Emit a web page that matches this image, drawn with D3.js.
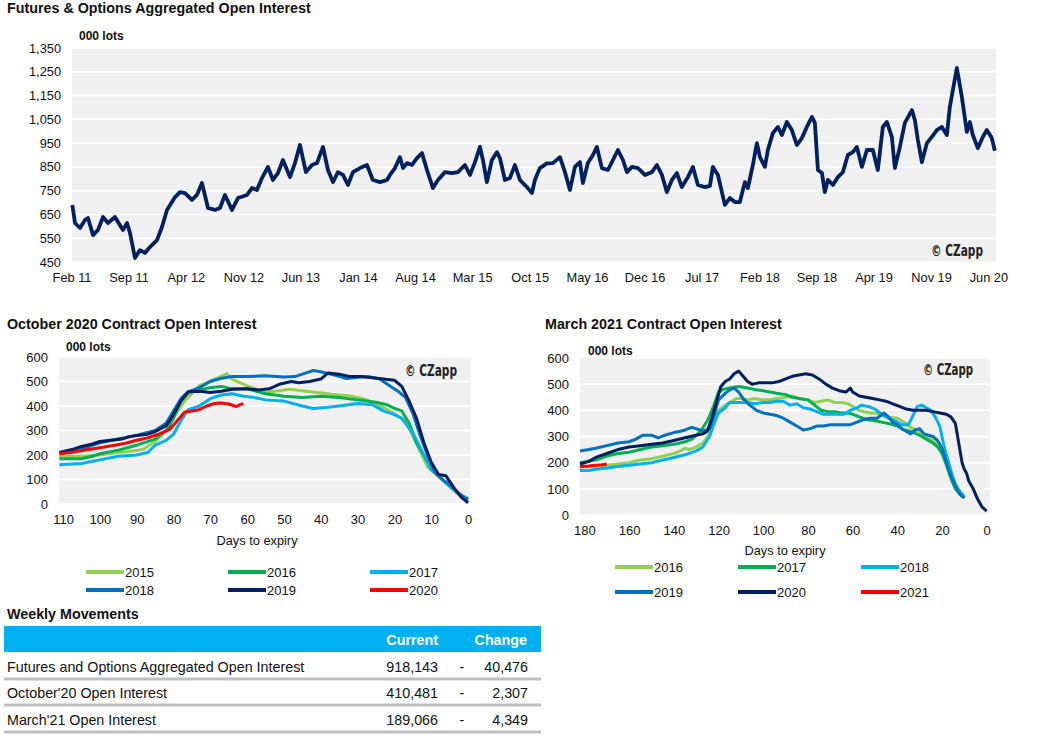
<!DOCTYPE html>
<html><head><meta charset="utf-8">
<script src="https://cdn.jsdelivr.net/npm/d3@7"></script>
<style>
body{margin:0;background:#fff;}
svg{display:block;font-family:"Liberation Sans",Arial,sans-serif;}
</style></head>
<body><svg id="c" width="1045" height="742"></svg>
<script>
// ---------- DATA ----------
// Top chart: [months since Feb 2011, open interest '000 lots]
const topSeries = [[0.1,690],[0.43,614],[1.04,593],[1.65,627],[2.01,635],[2.63,563],[3.24,585],[3.85,639],[4.46,614],[5.31,639],[5.92,605],[6.29,585],[6.78,614],[7.14,572],[7.75,467],[8.36,500],[8.97,488],[9.58,513],[10.44,542],[11.05,597],[11.66,669],[12.27,702],[12.64,723],[13.25,744],[13.86,740],[14.71,711],[15.32,732],[15.93,782],[16.67,677],[17.52,669],[18.13,677],[18.74,732],[19.60,669],[20.33,719],[21.43,732],[22.04,761],[22.65,753],[23.26,803],[23.99,850],[24.60,795],[25.21,824],[25.82,879],[26.68,807],[27.29,866],[27.90,942],[28.63,828],[29.37,858],[29.98,866],[30.71,934],[31.32,837],[31.93,786],[32.54,828],[33.15,816],[33.76,774],[34.37,828],[35.23,845],[36.08,858],[36.81,795],[37.67,786],[38.53,795],[38.89,816],[39.50,845],[40.11,891],[40.48,845],[40.97,866],[41.58,858],[42.19,887],[42.80,908],[43.41,837],[44.14,761],[44.75,795],[45.60,828],[46.46,824],[47.19,828],[48.05,858],[48.66,816],[49.27,870],[49.88,934],[50.24,879],[50.73,786],[51.34,879],[51.95,912],[52.32,887],[52.93,795],[53.54,803],[54.15,858],[54.76,795],[55.62,765],[56.23,740],[56.59,795],[57.20,845],[58.06,865],[58.79,866],[59.65,891],[60.26,828],[60.87,753],[61.48,850],[62.09,870],[62.45,782],[63.06,866],[63.68,900],[64.16,934],[64.77,845],[65.51,837],[66.12,879],[66.73,921],[67.34,879],[67.83,828],[68.44,850],[69.17,845],[70.03,816],[70.88,828],[71.49,858],[72.10,816],[72.71,744],[73.32,795],[73.93,824],[74.54,765],[75.27,807],[75.89,850],[76.50,774],[77.35,765],[77.96,770],[78.33,850],[78.94,816],[79.79,690],[80.40,719],[81.01,702],[81.62,702],[82.23,786],[82.60,761],[83.21,858],[83.70,950],[84.07,891],[84.68,850],[85.04,921],[85.65,992],[86.26,1018],[86.75,984],[87.36,1039],[87.97,1005],[88.58,942],[89.19,971],[89.80,1018],[90.42,1060],[90.78,1035],[91.15,837],[91.64,824],[92.00,744],[92.37,795],[92.98,774],[93.59,807],[94.20,828],[94.81,900],[95.42,912],[95.91,934],[96.52,850],[97.13,921],[97.86,921],[98.47,837],[99.08,1018],[99.57,1039],[100.18,976],[100.55,845],[101.16,934],[101.77,1035],[102.63,1089],[102.99,1047],[103.36,963],[103.85,870],[104.46,950],[105.07,976],[105.68,1005],[106.29,1018],[106.90,984],[107.26,1102],[108.12,1266],[108.73,1144],[109.34,997],[109.71,1039],[110.07,984],[110.68,929],[111.29,976],[111.78,1005],[112.39,971],[112.76,918]];
const topTickLabels = ["Feb 11","Sep 11","Apr 12","Nov 12","Jun 13","Jan 14","Aug 14","Mar 15","Oct 15","May 16","Dec 16","Jul 17","Feb 18","Sep 18","Apr 19","Nov 19","Jun 20"];
const topYTicks = [450,550,650,750,850,950,1050,1150,1250,1350];

// October 2020 contract: [days to expiry, '000 lots]
const oct2015 = [[111,195],[105,195],[100,200],[95,210],[90,218],[88,225],[85,255],[82,300],[80,354],[77,421],[73,482],[68,515],[65.5,532],[64,509],[60,482],[55,455],[48.5,468],[41,455],[37,448],[32,441],[28,428],[23,394],[20,367],[17,340],[14,246],[11,152],[7,98],[3,44],[0,24]];
const oct2016 = [[111,185],[105,185],[102,195],[100,205],[95,220],[90,240],[85,265],[82,300],[80,350],[78,420],[76,455],[73,465],[70,475],[67,480],[64,470],[60,470],[55,450],[50,440],[45,435],[40,440],[35,435],[30,425],[25,415],[22,405],[20,390],[18,380],[16,330],[14,250],[12,200],[10,150],[7,100],[4,60],[2,35],[0,20]];
const oct2017 = [[111,160],[105,165],[100,180],[95,195],[90,200],[87,210],[85,240],[82,260],[80,285],[78,340],[76,385],[73,400],[70,430],[67,445],[64,450],[61,440],[58,435],[55,425],[50,420],[45,400],[42,390],[38,395],[35,400],[30,410],[26,405],[23,380],[20,365],[18,350],[15,290],[12,200],[10,140],[7,100],[4,60],[2,35],[0,20]];
const oct2018 = [[111,205],[105,225],[100,250],[95,265],[90,280],[85,300],[82,330],[80,380],[78,430],[76,458],[73,475],[70,500],[67,513],[64,520],[60,520],[55,523],[50,518],[47,520],[44,535],[42,545],[40,540],[36,525],[33,512],[30,517],[27,520],[24,510],[21,480],[19,460],[17,435],[15,370],[13,280],[11,200],[9,130],[7,100],[5,80],[3,50],[1,25],[0,20]];
const oct2019 = [[111,210],[107,225],[105,235],[102,245],[100,255],[97,260],[94,265],[92,275],[90,280],[87,285],[85,295],[82,320],[80,365],[78,420],[76,458],[73,460],[70,455],[67,460],[64,468],[60,470],[57,465],[54,470],[51,490],[48,500],[46,495],[43,500],[40,510],[38,535],[35,530],[32,520],[29,520],[26,515],[23,510],[20,505],[18,480],[16,420],[14,350],[12,250],[10,170],[8,120],[6,115],[4,70],[2,30],[0,5]];
const oct2020 = [[111,205],[107,212],[104,220],[100,230],[96,240],[93,248],[90,260],[87,270],[84,285],[81,305],[79,340],[77,375],[75,380],[73,385],[71,400],[69,410],[67,412],[65,408],[63,398],[62,405],[61,410]];
const octYears = ["2015","2016","2017","2018","2019","2020"];

// March 2021 contract: [days to expiry, '000 lots]
const mar2016 = [[182,185],[175,185],[170,190],[165,195],[160,200],[155,210],[150,215],[145,225],[140,235],[137,245],[135,255],[133,250],[130,260],[127,275],[124,310],[122,360],[120,400],[117,420],[115,430],[112,445],[110,445],[107,440],[104,445],[100,440],[97,440],[94,445],[90,450],[87,455],[84,445],[80,440],[77,430],[74,435],[71,440],[68,430],[65,430],[62,425],[60,415],[57,400],[55,395],[52,390],[50,390],[47,380],[44,375],[40,370],[37,355],[34,335],[30,320],[27,300],[24,285],[22,265],[20,240],[18,200],[16,160],[14,120],[12,90],[10,65]];
const mar2017 = [[182,200],[175,210],[170,225],[165,235],[160,240],[155,250],[150,260],[145,265],[140,270],[135,280],[132,290],[128,320],[125,360],[122,420],[120,470],[118,480],[115,485],[112,490],[110,490],[107,485],[104,480],[100,475],[97,470],[94,465],[90,460],[87,450],[84,445],[80,440],[77,420],[74,400],[71,395],[68,395],[65,390],[62,390],[60,385],[57,375],[54,365],[50,360],[47,355],[44,350],[40,340],[37,325],[34,320],[30,305],[27,290],[24,275],[22,260],[20,235],[18,190],[16,140],[14,100],[12,80],[10,65]];
const mar2018 = [[182,170],[178,170],[175,175],[170,180],[165,185],[160,190],[155,195],[150,200],[145,210],[140,220],[135,230],[130,245],[127,260],[124,300],[122,350],[120,390],[117,410],[115,430],[112,430],[110,430],[107,430],[104,425],[100,430],[97,430],[94,435],[91,435],[88,420],[85,425],[82,410],[79,405],[76,395],[73,385],[70,385],[67,385],[64,385],[61,400],[58,410],[56,420],[53,415],[50,405],[47,385],[44,370],[41,360],[38,345],[35,345],[33,380],[31,415],[29,420],[27,410],[25,400],[23,375],[21,340],[19,260],[17,200],[15,140],[13,100],[11,80],[10,70]];
const mar2019 = [[182,245],[178,250],[175,255],[170,265],[165,275],[160,280],[157,290],[154,305],[150,305],[147,295],[144,305],[140,315],[137,320],[135,325],[132,335],[130,330],[127,320],[124,330],[122,380],[120,440],[117,465],[115,478],[113,485],[111,470],[109,445],[106,420],[103,400],[100,390],[97,385],[94,380],[91,370],[88,355],[85,340],[82,325],[79,330],[76,340],[73,340],[70,345],[67,345],[64,345],[61,345],[58,355],[55,365],[52,370],[49,370],[46,390],[44,375],[42,355],[40,345],[38,330],[36,320],[34,310],[32,325],[30,330],[28,310],[26,305],[24,300],[22,285],[20,255],[18,200],[16,150],[14,110],[12,80],[10,65]];
const mar2020 = [[182,195],[178,205],[175,220],[170,235],[165,250],[160,260],[155,265],[150,270],[145,275],[140,285],[135,295],[130,305],[127,310],[125,320],[123,370],[121,430],[119,490],[117,510],[115,520],[113,540],[111,550],[109,530],[107,510],[105,500],[102,505],[99,505],[96,505],[93,510],[90,520],[87,530],[84,535],[81,540],[78,535],[75,520],[72,500],[69,485],[66,475],[63,470],[61,485],[60,470],[57,455],[54,450],[51,445],[48,440],[45,435],[42,425],[39,415],[36,405],[33,400],[30,400],[27,400],[24,395],[21,390],[18,385],[16,375],[14,350],[13,300],[12,250],[11,200],[10,175],[9,160],[8,130],[6,100],[4,60],[2,30],[0,15]];
const mar2021 = [[182,185],[178,187],[175,190],[172,192],[170,195]];
const marYears = ["2016","2017","2018","2019","2020","2021"];

const yearColors = ["#92D050","#00B050","#00B0F0","#0070C0","#002060","#FF0000"];
const bottomYTicks = [0,100,200,300,400,500,600];
const octXTicks = [110,100,90,80,70,60,50,40,30,20,10,0];
const marXTicks = [180,160,140,120,100,80,60,40,20,0];

const tableHeader = ["Current","Change"];
const tableRows = ["Futures and Options Aggregated Open Interest","October'20 Open Interest","March'21 Open Interest"];
const tableCurrent = ["918,143","410,481","189,066"];
const tableSign = ["-","-","-"];
const tableChange = ["40,476","2,307","4,349"];

// ---------- DRAW ----------
const svg = d3.select("#c");
const BG = "#F0F0F0";
const TXT = "#111";

function title(x,y,t){ svg.append("text").attr("x",x).attr("y",y).attr("font-size","14.3px").attr("font-weight","bold").attr("fill",TXT).text(t); }
function unitLbl(x,y){ svg.append("text").attr("x",x).attr("y",y).attr("font-size","12px").attr("font-weight","bold").attr("fill",TXT).text("000 lots"); }
function credit(xEnd,y,w){ svg.append("text").attr("x",xEnd-w).attr("y",y).attr("font-size","15px").attr("font-weight","bold")
  .attr("font-family","'Liberation Sans Narrow','DejaVu Sans Condensed','Liberation Sans',sans-serif")
  .attr("textLength",w).attr("lengthAdjust","spacingAndGlyphs").attr("fill","#222").text("© CZapp"); }
function styleAxis(g,size){
  g.select(".domain").remove();
  g.selectAll("text").attr("font-size",size).attr("font-family","'Liberation Sans',Arial,sans-serif").attr("fill",TXT);
}

// ---- Top chart ----
title(7,13,"Futures & Options Aggregated Open Interest");
const t0 = new Date(2011,1,1);
const mToDate = m => new Date(t0.getTime() + m*30.4375*864e5);
const xT = d3.scaleTime().domain([t0, mToDate(112.9)]).range([71.5,996]);
const yT = d3.scaleLinear().domain([450,1350]).range([262,48]);
svg.append("rect").attr("x",72).attr("y",48).attr("width",924).attr("height",214).attr("fill",BG);
svg.append("g").selectAll("line").data(topYTicks).join("line")
  .attr("x1",72).attr("x2",996).attr("y1",d=>yT(d)).attr("y2",d=>yT(d)).attr("stroke","#fff").attr("stroke-width",1.5);
const parseM = d3.timeParse("%b %y");
const gxT = svg.append("g").attr("transform","translate(0,270)")
  .call(d3.axisBottom(xT).tickValues(topTickLabels.map(parseM)).tickFormat(d3.timeFormat("%b %y")).tickSize(0));
styleAxis(gxT,"12.8px"); gxT.selectAll("text").attr("dy","0.71em");
const gyT = svg.append("g").attr("transform","translate(61,0)")
  .call(d3.axisLeft(yT).tickValues(topYTicks).tickFormat(d3.format(",")).tickSize(0));
styleAxis(gyT,"12.8px"); gyT.selectAll("text").attr("x",0);
svg.append("path").datum(topSeries).attr("fill","none").attr("stroke","#002060").attr("stroke-width",3.8).attr("stroke-linejoin","round")
  .attr("d", d3.line().x(d=>xT(mToDate(d[0]))).y(d=>yT(d[1])));
unitLbl(79,40);
credit(983,256,52);

// ---- Bottom charts ----
function bottomChart(cfg){
  title(cfg.tx,cfg.ty,cfg.title);
  const x = d3.scaleLinear().domain(cfg.xd).range([cfg.x0,cfg.x1]);
  const y = d3.scaleLinear().domain([0,600]).range([cfg.yb,cfg.yt]);
  svg.append("rect").attr("x",cfg.x0).attr("y",cfg.yt).attr("width",cfg.x1-cfg.x0).attr("height",cfg.yb-cfg.yt).attr("fill",BG);
  svg.append("g").selectAll("line").data(bottomYTicks).join("line")
    .attr("x1",cfg.x0).attr("x2",cfg.x1).attr("y1",d=>y(d)).attr("y2",d=>y(d)).attr("stroke","#fff").attr("stroke-width",1.5);
  const gx = svg.append("g").attr("transform",`translate(0,${cfg.yb+8})`).call(d3.axisBottom(x).tickValues(cfg.xticks).tickSize(0));
  styleAxis(gx,"13px"); gx.selectAll("text").attr("dy","0.71em");
  const gy = svg.append("g").attr("transform",`translate(${cfg.yl},0)`).call(d3.axisLeft(y).tickValues(bottomYTicks).tickSize(0));
  styleAxis(gy,"13px"); gy.selectAll("text").attr("x",0);
  const line = d3.line().x(d=>x(d[0])).y(d=>y(d[1]));
  cfg.series.forEach((s,i)=>{
    svg.append("path").datum(s).attr("fill","none").attr("stroke",yearColors[i]).attr("stroke-width",3).attr("stroke-linejoin","round").attr("d",line);
  });
  unitLbl(cfg.ux,cfg.uy);
  credit(cfg.cx,cfg.cy,cfg.cw);
  svg.append("text").attr("x",cfg.dx).attr("y",cfg.dy).attr("text-anchor","middle").attr("font-size","12.8px").attr("fill",TXT).text("Days to expiry");
  // legend
  cfg.years.forEach((yr,i)=>{
    const col=i%3,row=Math.floor(i/3);
    const lx=cfg.lx[col], ly=cfg.ly[row];
    svg.append("line").attr("x1",lx).attr("x2",lx+38).attr("y1",ly).attr("y2",ly).attr("stroke",yearColors[i]).attr("stroke-width",4);
    svg.append("text").attr("x",lx+39).attr("y",ly+4.5).attr("font-size","13px").attr("fill",TXT).text(yr);
  });
}
bottomChart({title:"October 2020 Contract Open Interest",tx:7,ty:329,xd:[111.1,-0.8],x0:59,x1:471,yt:357,yb:504,yl:48,
  xticks:octXTicks,series:[oct2015,oct2016,oct2017,oct2018,oct2019,oct2020],ux:66,uy:351,cx:457,cy:376,cw:52,dx:257,dy:545,
  years:octYears,lx:[86,228,370],ly:[572,590]});
bottomChart({title:"March 2021 Contract Open Interest",tx:545,ty:329,xd:[182,-1.5],x0:580,x1:990,yt:358,yb:515,yl:569,
  xticks:marXTicks,series:[mar2016,mar2017,mar2018,mar2019,mar2020,mar2021],ux:588,uy:355,cx:973,cy:375,cw:50,dx:785,dy:555,
  years:marYears,lx:[615,738,861],ly:[567,592]});

// ---- Table ----
title(7,619,"Weekly Movements");
svg.append("rect").attr("x",4).attr("y",626).attr("width",537).attr("height",26).attr("fill","#00B0F0");
svg.append("text").attr("x",438).attr("y",645).attr("text-anchor","end").attr("font-size","14.3px").attr("font-weight","bold").attr("fill","#fff").text(tableHeader[0]);
svg.append("text").attr("x",527).attr("y",645).attr("text-anchor","end").attr("font-size","14.3px").attr("font-weight","bold").attr("fill","#fff").text(tableHeader[1]);
const rowY=[672,698,725], sepY=[679,705,732];
tableRows.forEach((r,i)=>{
  svg.append("text").attr("x",7).attr("y",rowY[i]).attr("font-size","14.3px").attr("fill",TXT).text(r);
  svg.append("text").attr("x",438).attr("y",rowY[i]).attr("text-anchor","end").attr("font-size","14.3px").attr("fill",TXT).text(tableCurrent[i]);
  svg.append("text").attr("x",462).attr("y",rowY[i]).attr("text-anchor","middle").attr("font-size","14.3px").attr("fill",TXT).text(tableSign[i]);
  svg.append("text").attr("x",528).attr("y",rowY[i]).attr("text-anchor","end").attr("font-size","14.3px").attr("fill",TXT).text(tableChange[i]);
  svg.append("line").attr("x1",4).attr("x2",541).attr("y1",sepY[i]).attr("y2",sepY[i]).attr("stroke","#BFBFBF").attr("stroke-width",3);
});
</script></body></html>
